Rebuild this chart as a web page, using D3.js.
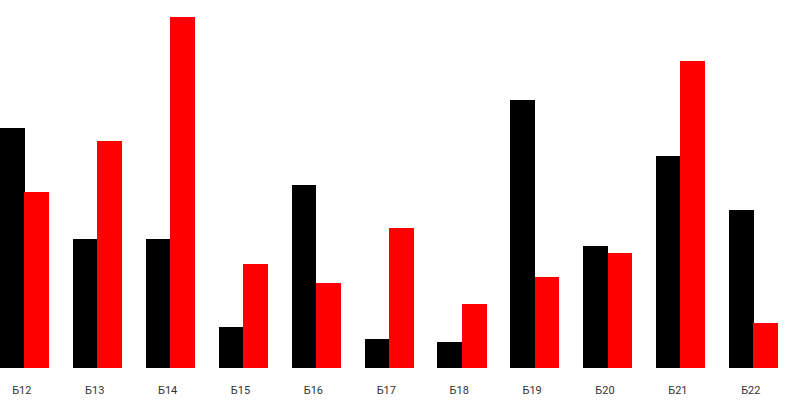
<!DOCTYPE html>
<html><head><meta charset="utf-8">
<script src="https://cdn.jsdelivr.net/npm/d3@7"></script>
<style>html,body{margin:0;padding:0;background:#fff;overflow:hidden}</style>
</head><body>
<svg id="chart" width="800" height="413"></svg>
<script>
const categories = ["Б12","Б13","Б14","Б15","Б16","Б17","Б18","Б19","Б20","Б21","Б22"];
const seriesNames = ["s1","s2"];
const blackValues = [24.0, 12.9, 12.9, 4.1, 18.3, 2.9, 2.6, 26.8, 12.2, 21.2, 15.8];
const redValues   = [17.6, 22.7, 35.1, 10.4, 8.5, 14.0, 6.4, 9.1, 11.5, 30.7, 4.5];
const colors = ["#000000", "#ff0000"];

const svg = d3.select("#chart");
const x0 = d3.scaleBand().domain(categories).range([0, 777.6]).paddingInner(1/3).paddingOuter(0);
const x1 = d3.scaleBand().domain(seriesNames).range([0, x0.bandwidth()]).padding(0);
const y = d3.scaleLinear().domain([0, 35.1]).range([368, 17]);

const data = categories.map((c, i) => ({cat: c, vals: [blackValues[i], redValues[i]]}));

const g = svg.selectAll("g.grp").data(data).join("g")
  .attr("class", "grp")
  .attr("transform", d => `translate(${x0(d.cat)},0)`);

g.selectAll("rect").data(d => d.vals.map((v, j) => ({key: seriesNames[j], v, j}))).join("rect")
  .attr("x", d => x1(d.key))
  .attr("width", x1.bandwidth() + 0.5)
  .attr("y", d => y(d.v))
  .attr("height", d => y(0) - y(d.v))
  .attr("fill", d => colors[d.j])
  .attr("shape-rendering", "crispEdges");

const axis = d3.axisBottom(x0).tickSize(0).tickPadding(0);
const ax = svg.append("g").attr("transform", "translate(-2.5,386)").call(axis);
ax.select(".domain").remove();
ax.selectAll("text")
  .attr("font-family", "Roboto, 'Liberation Sans', sans-serif")
  .attr("font-size", "11px")
  .attr("fill", "#333")
  .attr("dy", "0.71em");
</script>
</body></html>
